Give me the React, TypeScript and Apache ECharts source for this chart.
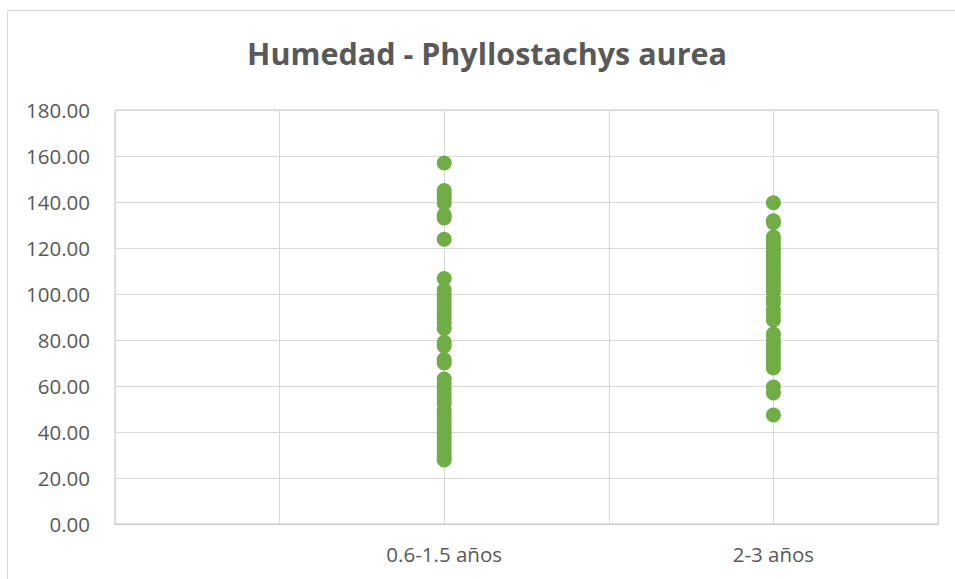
import React, { useEffect, useRef } from "react";
import * as echarts from "echarts";

const title = "Humedad - Phyllostachys aurea";
const categories = ["0.6-1.5 años", "2-3 años"];
const categoryX = [1, 2];
const yTicks = { min: 0, max: 180, interval: 20 };

const group1 = [
  157, 145, 143, 141.5, 139.5, 134.3, 133, 123.8, 106.7, 101.7, 99.5, 97.5, 95.5, 93.5, 91.5,
  89.5, 87.5, 85, 79, 77.4, 71.5, 70, 63, 61, 59, 56.5, 54.5, 52.5, 49.5, 47.5, 45.5, 43.5,
  41.5, 39.5, 37.5, 35.5, 33.5, 31.5, 29.5, 27.8,
];
const group2 = [
  139.7, 131.9, 131, 124.8, 123, 121, 119, 117, 115, 113, 111, 109, 107, 105, 103, 101, 98,
  96, 93, 91, 88.7, 82.6, 80, 78, 76, 74, 72, 70, 67.8, 59.6, 57, 47.4,
];

export default function App() {
  const ref = useRef<HTMLDivElement>(null);
  useEffect(() => {
    if (!ref.current) return;
    const chart = echarts.init(ref.current, undefined, { renderer: "svg" });
    const data = [
      ...group1.map((v) => [categoryX[0], v]),
      ...group2.map((v) => [categoryX[1], v]),
    ];
    const font = "'Open Sans', 'Noto Sans', sans-serif";
    chart.setOption({
      animation: false,
      backgroundColor: "#ffffff",
      grid: {
        left: 115,
        right: 17,
        top: 110,
        bottom: 55,
        show: true,
        borderColor: "#C8C8C8",
        borderWidth: 1,
      },
      graphic: [
        {
          type: "rect",
          shape: { x: 7.5, y: 10.5, width: 1200, height: 1200 },
          style: { fill: "none", stroke: "#D9D9D9", lineWidth: 1 },
          silent: true,
          z: -1,
        },
        {
          type: "text",
          x: 487,
          y: 53,
          style: {
            text: title,
            fill: "#595959",
            font: `bold 30.5px ${font}`,
            textAlign: "center",
            textVerticalAlign: "middle",
          },
        },
      ],
      xAxis: {
        type: "value",
        min: 0,
        max: 2.5,
        interval: 0.5,
        axisLine: { show: true, lineStyle: { color: "#C8C8C8" } },
        axisTick: { show: false },
        splitLine: { show: true, lineStyle: { color: "#D9D9D9", width: 1 } },
        axisLabel: {
          color: "#595959",
          fontSize: 20.5,
          fontFamily: font,
          margin: 19,
          formatter: (v: number) => {
            const i = categoryX.indexOf(v);
            return i >= 0 ? categories[i] : "";
          },
        },
      },
      yAxis: {
        type: "value",
        min: yTicks.min,
        max: yTicks.max,
        interval: yTicks.interval,
        axisLine: { show: false },
        axisTick: { show: false },
        splitLine: { show: true, lineStyle: { color: "#D9D9D9", width: 1 } },
        axisLabel: {
          color: "#595959",
          fontSize: 20.5,
          fontFamily: font,
          margin: 25,
          formatter: (v: number) => v.toFixed(2),
        },
      },
      series: [
        {
          type: "scatter",
          data,
          symbol: "circle",
          symbolSize: 15,
          itemStyle: { color: "#70AD47", opacity: 1 },
        },
      ],
    });
    return () => chart.dispose();
  }, []);
  return (
    <div
      ref={ref}
      style={{ position: "absolute", left: 0, top: 0, width: 955, height: 579 }}
    />
  );
}
